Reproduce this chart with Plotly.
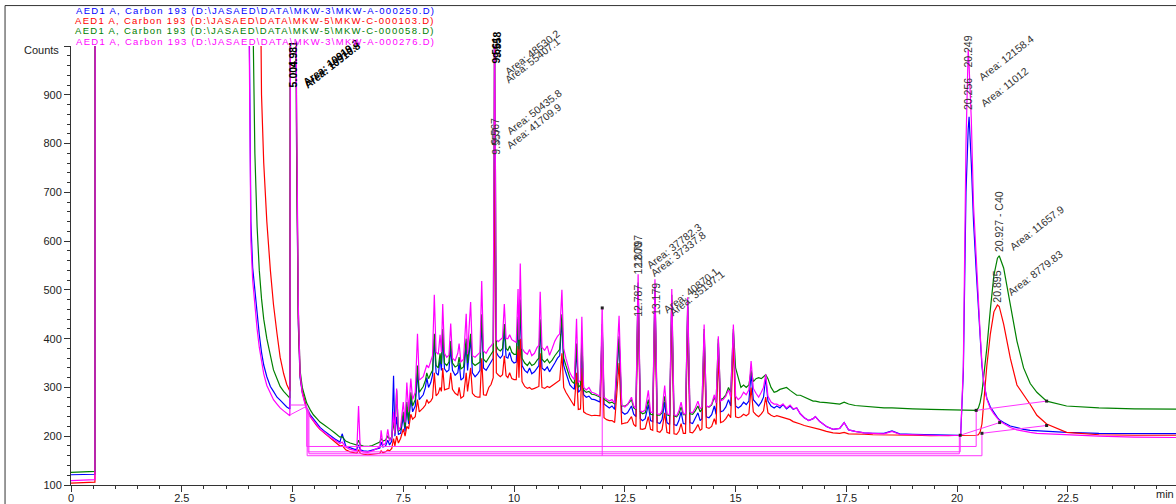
import plotly.graph_objects as go

# ---------------------------------------------------------------------------
# Chromatogram data: retention time (min) and detector counts for four runs
# (AED1 A, Carbon 193). One row of values per group of retention times.
# ---------------------------------------------------------------------------
retention_min = (
    [0.00, 0.54, 0.555, 3.90]
    + [4.00, 4.03, 4.06, 4.10, 4.15, 4.20, 4.25, 4.30, 4.35]
    + [4.42, 4.50, 4.57, 4.65, 4.72, 4.80, 4.87, 4.94]
    + [4.98, 5.04, 5.09, 5.13, 5.17, 5.22, 5.27, 5.32]
    + [5.40, 5.47, 5.55, 5.62, 5.70, 5.77, 5.85, 5.95, 6.07]
    + [6.12, 6.20, 6.30, 6.40, 6.45, 6.49, 6.53, 6.60, 6.70, 6.80, 6.90, 6.97]
    + [7.00, 7.04, 7.10, 7.15, 7.19, 7.24, 7.28, 7.31, 7.35, 7.39, 7.44]
    + [7.50, 7.54, 7.58, 7.62, 7.67, 7.71, 7.77, 7.82, 7.86, 7.95, 8.00, 8.03]
    + [8.07, 8.12, 8.16, 8.20, 8.24, 8.29, 8.33, 8.36, 8.39, 8.43, 8.48]
    + [8.53, 8.57, 8.61, 8.67, 8.73, 8.76, 8.80, 8.86, 8.92, 8.95, 9.02, 9.06]
    + [9.12, 9.18, 9.23, 9.27, 9.31, 9.37, 9.43, 9.48, 9.53, 9.56, 9.60]
    + [9.64, 9.69, 9.74, 9.78, 9.82, 9.86, 9.90, 9.95, 10.00, 10.05]
    + [10.09, 10.11, 10.14, 10.18, 10.24, 10.30, 10.35, 10.40, 10.46, 10.52]
    + [10.56, 10.59, 10.63, 10.69, 10.75, 10.80, 10.86, 10.92, 10.98, 11.03]
    + [11.08, 11.12, 11.17, 11.22, 11.26, 11.31, 11.36, 11.41, 11.45, 11.50, 11.53]
    + [11.57, 11.63, 11.69, 11.75, 11.82, 11.88, 11.94, 11.99, 12.03]
    + [12.09, 12.15, 12.21, 12.27, 12.37, 12.43, 12.50, 12.56]
    + [12.65, 12.70, 12.75, 12.80, 12.85, 12.90, 12.96, 13.03, 13.08, 13.13]
    + [13.18, 13.23, 13.29, 13.34, 13.40, 13.45, 13.51, 13.56, 13.61]
    + [13.67, 13.72, 13.77, 13.82, 13.87, 13.92, 13.97, 14.03, 14.09]
    + [14.15, 14.20, 14.24, 14.29, 14.34, 14.40, 14.46, 14.52, 14.56]
    + [14.61, 14.66, 14.72, 14.78, 14.84, 14.89, 14.95, 15.00]
    + [15.06, 15.12, 15.18, 15.24, 15.30, 15.35, 15.40, 15.46, 15.52]
    + [15.58, 15.63, 15.68, 15.73, 15.80, 15.87, 15.93, 16.00, 16.07]
    + [16.15, 16.23, 16.30, 16.38, 16.46, 16.55, 16.65, 16.75, 16.80]
    + [16.90, 17.05, 17.20, 17.35, 17.45, 17.55, 17.70, 17.90, 18.10]
    + [18.35, 18.53, 18.70, 19.00, 19.40, 19.80, 20.08]
    + [20.14, 20.20, 20.25, 20.27, 20.32, 20.37, 20.43, 20.48, 20.52, 20.56]
    + [20.60, 20.67, 20.75, 20.83, 20.91, 20.95, 21.05, 21.20]
    + [21.35, 21.50, 21.65, 21.80, 22.02, 22.47, 23.20, 24.00, 25.50]
)

counts_mkw_a_000250 = (  # blue
    [121, 122, 3000, 3000]
    + [1300, 850, 640, 546, 500, 440, 408, 372, 346]
    + [322, 302, 292, 280, 274, 266, 260, 256]
    + [3000, 3000, 800, 430, 320, 290, 272, 258]
    + [244, 235, 226, 218, 212, 207, 201, 195, 188]
    + [205, 180, 176, 173, 173, 182, 172, 170, 169, 171, 174, 176]
    + [188, 178, 180, 192, 182, 190, 324, 200, 240, 204, 206]
    + [240, 210, 260, 225, 280, 250, 262, 330, 275, 285, 300, 320]
    + [300, 310, 325, 400, 330, 325, 360, 335, 410, 338, 332]
    + [336, 380, 335, 325, 330, 350, 315, 320, 390, 335, 400, 330]
    + [322, 328, 335, 440, 340, 335, 345, 352, 360, 800, 372]
    + [365, 360, 366, 420, 362, 360, 372, 355, 350, 352]
    + [440, 360, 470, 345, 335, 330, 340, 328, 332, 340]
    + [345, 430, 340, 335, 342, 332, 340, 350, 360, 365]
    + [440, 345, 330, 318, 305, 300, 296, 380, 290, 295, 390]
    + [285, 280, 282, 276, 275, 272, 270, 420, 266]
    + [262, 258, 262, 255, 400, 250, 245, 248]
    + [262, 245, 240, 510, 236, 232, 236, 265, 232, 230]
    + [500, 228, 226, 234, 270, 228, 224, 480, 224]
    + [222, 232, 250, 226, 225, 465, 228, 226, 236]
    + [248, 232, 236, 410, 240, 238, 244, 262, 245]
    + [390, 250, 252, 260, 275, 262, 412, 262]
    + [258, 262, 270, 265, 272, 330, 275, 268, 262]
    + [270, 280, 320, 272, 262, 258, 262, 258, 265]
    + [256, 262, 255, 258, 246, 238, 232, 236, 240]
    + [230, 220, 214, 216, 228, 213, 210, 207, 206]
    + [206, 211, 205, 204, 203, 202, 202]
    + [330, 700, 830, 855, 760, 640, 540, 460, 400, 344]
    + [310, 278, 260, 248, 238, 234, 228, 221]
    + [217, 214, 212, 211, 210, 208, 206, 205, 205]
)

counts_mkw_c_000103 = (  # red
    [104, 106, 3000, 3000]
    + [3000, 3000, 3000, 3000, 3000, 3000, 1400, 900, 760]
    + [640, 540, 470, 410, 362, 328, 306, 292]
    + [3000, 3000, 820, 440, 325, 292, 272, 256]
    + [240, 230, 221, 214, 208, 203, 196, 188, 180]
    + [181, 172, 168, 166, 165, 172, 165, 163, 162, 163, 164, 165]
    + [170, 166, 168, 172, 170, 175, 195, 180, 200, 186, 196]
    + [215, 200, 220, 215, 245, 235, 240, 275, 250, 258, 264, 275]
    + [268, 272, 278, 330, 283, 288, 300, 292, 340, 295, 296]
    + [298, 330, 296, 288, 284, 300, 278, 282, 330, 292, 340, 288]
    + [282, 280, 280, 360, 285, 284, 300, 306, 320, 760, 330]
    + [326, 322, 326, 365, 324, 320, 330, 318, 316, 316]
    + [385, 320, 400, 312, 302, 298, 300, 296, 298, 300]
    + [302, 370, 300, 298, 302, 300, 304, 308, 312, 315]
    + [370, 300, 290, 282, 275, 268, 262, 330, 255, 256, 340]
    + [250, 246, 244, 242, 243, 242, 242, 400, 238]
    + [234, 232, 232, 228, 350, 225, 227, 228]
    + [240, 224, 220, 490, 215, 214, 216, 240, 214, 212]
    + [480, 210, 208, 214, 248, 208, 206, 462, 205]
    + [204, 210, 226, 206, 206, 445, 208, 207, 214]
    + [224, 212, 215, 395, 218, 216, 220, 236, 224]
    + [370, 228, 230, 236, 245, 238, 395, 240]
    + [238, 240, 245, 242, 246, 300, 250, 244, 240]
    + [246, 252, 280, 248, 243, 240, 242, 240, 238]
    + [235, 234, 230, 228, 225, 222, 220, 217, 216]
    + [214, 210, 207, 206, 208, 205, 204, 204, 203]
    + [203, 203, 202, 202, 201, 201, 201]
    + [201, 201, 201, 201, 201, 201, 202, 203, 209, 225]
    + [270, 344, 410, 455, 469, 466, 430, 360]
    + [305, 286, 265, 243, 225, 208, 203, 202, 202]
)

counts_mkw_c_000058 = (  # green
    [126, 128, 3000, 3000]
    + [3000, 3000, 3000, 1100, 780, 630, 540, 482, 440]
    + [400, 362, 336, 318, 302, 292, 284, 278]
    + [3000, 3000, 850, 460, 335, 300, 282, 268]
    + [254, 244, 236, 229, 224, 220, 214, 207, 198]
    + [199, 190, 186, 183, 182, 192, 182, 180, 179, 181, 185, 188]
    + [195, 190, 192, 200, 194, 198, 230, 205, 294, 210, 214]
    + [250, 218, 270, 232, 290, 262, 275, 345, 290, 302, 315, 330]
    + [318, 328, 335, 410, 345, 340, 370, 348, 420, 350, 345]
    + [352, 395, 350, 342, 345, 362, 338, 342, 400, 350, 410, 350]
    + [345, 348, 352, 450, 358, 352, 362, 368, 375, 1100, 385]
    + [378, 375, 380, 430, 380, 376, 385, 372, 368, 368]
    + [445, 378, 480, 360, 350, 345, 352, 345, 348, 356]
    + [360, 440, 358, 352, 358, 350, 356, 365, 372, 378]
    + [450, 360, 345, 332, 320, 312, 308, 390, 300, 305, 400]
    + [295, 290, 292, 286, 285, 282, 280, 430, 276]
    + [272, 268, 270, 266, 405, 262, 262, 265]
    + [275, 258, 255, 515, 250, 246, 248, 275, 245, 244]
    + [505, 243, 243, 248, 282, 244, 242, 490, 242]
    + [240, 246, 260, 244, 244, 475, 246, 245, 252]
    + [262, 250, 255, 420, 262, 260, 264, 280, 270]
    + [400, 275, 278, 285, 300, 290, 420, 340]
    + [320, 300, 305, 300, 305, 335, 312, 318, 320]
    + [318, 322, 326, 318, 300, 290, 292, 296, 298]
    + [300, 294, 290, 284, 284, 280, 276, 272, 272]
    + [270, 269, 268, 266, 270, 266, 263, 261, 259]
    + [258, 258, 257, 256, 255, 254, 253]
    + [253, 253, 253, 253, 253, 253, 253, 258, 270, 290]
    + [320, 380, 460, 530, 565, 570, 545, 470]
    + [395, 340, 308, 290, 272, 262, 258, 256, 255]
)

counts_mkw_a_000276 = (  # magenta
    [109, 111, 3000, 3000]
    + [1250, 800, 600, 520, 468, 420, 382, 352, 328]
    + [304, 287, 275, 266, 258, 252, 246, 242]
    + [3000, 3000, 900, 470, 330, 288, 268, 252]
    + [240, 231, 223, 215, 209, 203, 198, 192, 185]
    + [188, 178, 173, 170, 170, 262, 170, 168, 167, 170, 175, 178]
    + [212, 182, 185, 214, 190, 198, 250, 205, 298, 212, 220]
    + [270, 228, 310, 250, 318, 275, 290, 410, 315, 322, 335, 346]
    + [340, 355, 365, 490, 372, 368, 408, 372, 471, 370, 362]
    + [366, 431, 360, 355, 370, 390, 352, 358, 451, 368, 475, 365]
    + [362, 368, 372, 518, 375, 370, 380, 385, 392, 1100, 398]
    + [394, 398, 402, 471, 400, 400, 408, 398, 394, 392]
    + [502, 398, 554, 380, 372, 368, 378, 365, 370, 382]
    + [386, 496, 382, 376, 385, 366, 380, 395, 405, 410]
    + [500, 380, 360, 345, 330, 322, 316, 441, 310, 315, 445]
    + [300, 295, 300, 290, 288, 285, 282, 463, 280]
    + [276, 272, 275, 268, 447, 264, 260, 265]
    + [280, 262, 256, 532, 252, 250, 254, 294, 250, 248]
    + [522, 246, 245, 252, 304, 246, 244, 502, 244]
    + [242, 252, 270, 246, 246, 485, 250, 248, 258]
    + [272, 256, 260, 429, 262, 260, 266, 285, 268]
    + [405, 272, 275, 282, 295, 280, 429, 282]
    + [275, 280, 290, 285, 295, 354, 298, 288, 280]
    + [290, 300, 327, 282, 270, 266, 266, 262, 266]
    + [258, 264, 256, 258, 246, 238, 232, 236, 240]
    + [230, 220, 214, 216, 228, 213, 210, 207, 206]
    + [205, 210, 204, 203, 202, 201, 202]
    + [344, 800, 993, 960, 850, 674, 560, 472, 410, 350]
    + [312, 276, 257, 246, 236, 232, 226, 218]
    + [213, 210, 208, 206, 205, 202, 200, 198, 197]
)

for series in (counts_mkw_a_000250, counts_mkw_c_000103,
               counts_mkw_c_000058, counts_mkw_a_000276):
    assert len(series) == len(retention_min)

# Integration baselines (segments separated by None)
baseline_min = [5.32, 5.32, 20.43, 20.43, 22.02, None,
                5.35, 5.35, 20.07, 20.07, 20.96, None,
                5.37, 5.37, 20.05, 20.05, None,
                5.33, 5.33, 20.56, 20.56, 22.02, None,
                11.99, 11.99, None,
                4.95, 5.33, None,
                4.95, 5.33]
baseline_counts = [264, 179, 179, 253, 272, None,
                   256, 168, 168, 202, 228, None,
                   252, 164, 164, 202, None,
                   258, 160, 160, 206, 222, None,
                   463, 160, None,
                   264, 264, None,
                   244, 262]
baseline_marks_min = [20.43, 22.02, 20.07, 20.96, 20.56, 22.02, 11.99]
baseline_marks_counts = [253, 272, 202, 228, 206, 222, 463]

# Peak labels: retention times (vertical) and areas (slanted)
rt_label_text = ["5.004", "4.981", "9.561", "9.558", "9.557", "9.567",
                 "12.787", "12.800", "12.797", "13.179",
                 "20.249", "20.256", "20.927 - C40", "20.895"]
rt_label_min = [5.01, 5.01, 9.59, 9.60, 9.59, 9.59,
                12.79, 12.79, 12.80, 13.20,
                20.25, 20.25, 20.93, 20.88]
rt_label_counts = [911, 952, 960, 972, 773, 794,
                   440, 527, 543, 444,
                   952, 865, 573, 470]
rt_label_bold = [True, True, True, True, False, False,
                 False, False, False, False,
                 False, False, False, False]

area_label_text = ["Area: 10919.3", "Area: 10910.8", "Area: 48530.2",
                   "Area: 55407.1", "Area: 50435.8", "Area: 41709.9",
                   "Area: 37782.3", "Area: 37337.8", "Area: 40870.1",
                   "Area: 35197.1", "Area: 12158.4", "Area: 11012",
                   "Area: 11657.9", "Area: 8779.83"]
area_label_min = [5.12, 5.14, 9.68, 9.68, 9.71, 9.71,
                  12.87, 12.96, 13.27, 13.39,
                  20.36, 20.41, 21.06, 21.02]
area_label_counts = [909, 903, 931, 915, 808, 778,
                     533, 517, 442, 436,
                     919, 865, 571, 478]
area_label_bold = [True, True, False, False, False, False,
                   False, False, False, False,
                   False, False, False, False]

run_titles = [
    r"AED1 A, Carbon 193 (D:\JASAED\DATA\MKW-3\MKW-A-000250.D)",
    r"AED1 A, Carbon 193 (D:\JASAED\DATA\MKW-5\MKW-C-000103.D)",
    r"AED1 A, Carbon 193 (D:\JASAED\DATA\MKW-5\MKW-C-000058.D)",
    r"AED1 A, Carbon 193 (D:\JASAED\DATA\MKW-3\MKW-A-000276.D)",
]
run_colors = ["#0000ff", "#ff0000", "#008000", "#ff00ff"]
run_counts = [counts_mkw_a_000250, counts_mkw_c_000103,
              counts_mkw_c_000058, counts_mkw_a_000276]

y_tick_vals = [100, 200, 300, 400, 500, 600, 700, 800, 900, 1000]
y_tick_text = ["100", "200", "300", "400", "500", "600", "700", "800", "900", ""]

FONT = "Liberation Sans, Arial, sans-serif"

fig = go.Figure()

for title, color, counts in zip(run_titles, run_colors, run_counts):
    fig.add_trace(go.Scatter(
        x=retention_min, y=counts, mode="lines", name=title,
        line=dict(color=color, width=1.2), hoverinfo="skip",
    ))

fig.add_trace(go.Scatter(
    x=baseline_min, y=baseline_counts, mode="lines",
    line=dict(color="#ff33ff", width=1), hoverinfo="skip",
))
fig.add_trace(go.Scatter(
    x=baseline_marks_min, y=baseline_marks_counts, mode="markers",
    marker=dict(color="#222222", size=3, symbol="square"), hoverinfo="skip",
))

annotations = []
for text, xm, yc, bold in zip(rt_label_text, rt_label_min, rt_label_counts, rt_label_bold):
    annotations.append(dict(
        x=xm, y=yc, xref="x", yref="y", text=f"<b>{text}</b>" if bold else text,
        textangle=-90, showarrow=False, xanchor="center", yanchor="bottom",
        font=dict(family=FONT, size=10.5, color="#000000" if bold else "#333333"),
    ))
for text, xm, yc, bold in zip(area_label_text, area_label_min, area_label_counts, area_label_bold):
    annotations.append(dict(
        x=xm, y=yc, xref="x", yref="y", text=f"<b>{text}</b>" if bold else text,
        textangle=-38, showarrow=False, xanchor="left", yanchor="bottom",
        font=dict(family=FONT, size=10.5, color="#000000" if bold else "#333333"),
    ))

# run titles stacked above the plot, right-aligned, with wide tracking
title_y = [1.0809, 1.0578, 1.0346, 1.0112]
for title, color, yp in zip(run_titles, run_colors, title_y):
    annotations.append(dict(
        x=0.3312, y=yp, xref="paper", yref="paper",
        text=f'<span style="letter-spacing:1.3px">{title}</span>',
        showarrow=False, xanchor="right", yanchor="middle",
        font=dict(family=FONT, size=9.5, color=color),
    ))

annotations.append(dict(
    x=-0.009, y=0.991, xref="paper", yref="paper", text="Counts",
    showarrow=False, xanchor="right", yanchor="middle",
    font=dict(family=FONT, size=11, color="#222222"),
))
annotations.append(dict(
    x=1.0, y=-0.02, xref="paper", yref="paper", text="min",
    showarrow=False, xanchor="right", yanchor="middle",
    font=dict(family=FONT, size=11, color="#222222"),
))

# thin frame along the top and left edges of the page
fig.update_layout(
    width=1176, height=504,
    margin=dict(l=71, r=0, t=46, b=13),
    paper_bgcolor="white", plot_bgcolor="white",
    showlegend=False,
    annotations=annotations,
    shapes=[
        dict(type="rect", xref="paper", yref="paper", x0=-0.0597, x1=1.05,
             y0=-0.05, y1=1.0921, layer="above",
             line=dict(color="#333333", width=1)),
    ],
)

fig.update_xaxes(
    range=[0, 24.94], showgrid=False, zeroline=False,
    showline=True, linecolor="#333333", linewidth=1,
    tickmode="linear", tick0=0, dtick=2.5,
    ticks="outside", ticklen=6, tickcolor="#333333",
    tickfont=dict(family=FONT, size=11, color="#222222"),
    ticklabelstandoff=-3,
    minor=dict(tickmode="linear", tick0=0, dtick=0.5, ticks="outside",
               ticklen=3, tickcolor="#333333"),
)
fig.update_yaxes(
    range=[100, 1000], showgrid=False, zeroline=False,
    showline=True, linecolor="#333333", linewidth=1,
    tickmode="array", tickvals=y_tick_vals, ticktext=y_tick_text,
    ticks="outside", ticklen=6, tickcolor="#333333",
    tickfont=dict(family=FONT, size=11, color="#222222"),
    minor=dict(tickmode="linear", tick0=100, dtick=20, ticks="outside",
               ticklen=3, tickcolor="#333333"),
)

fig.write_html("out.html")
